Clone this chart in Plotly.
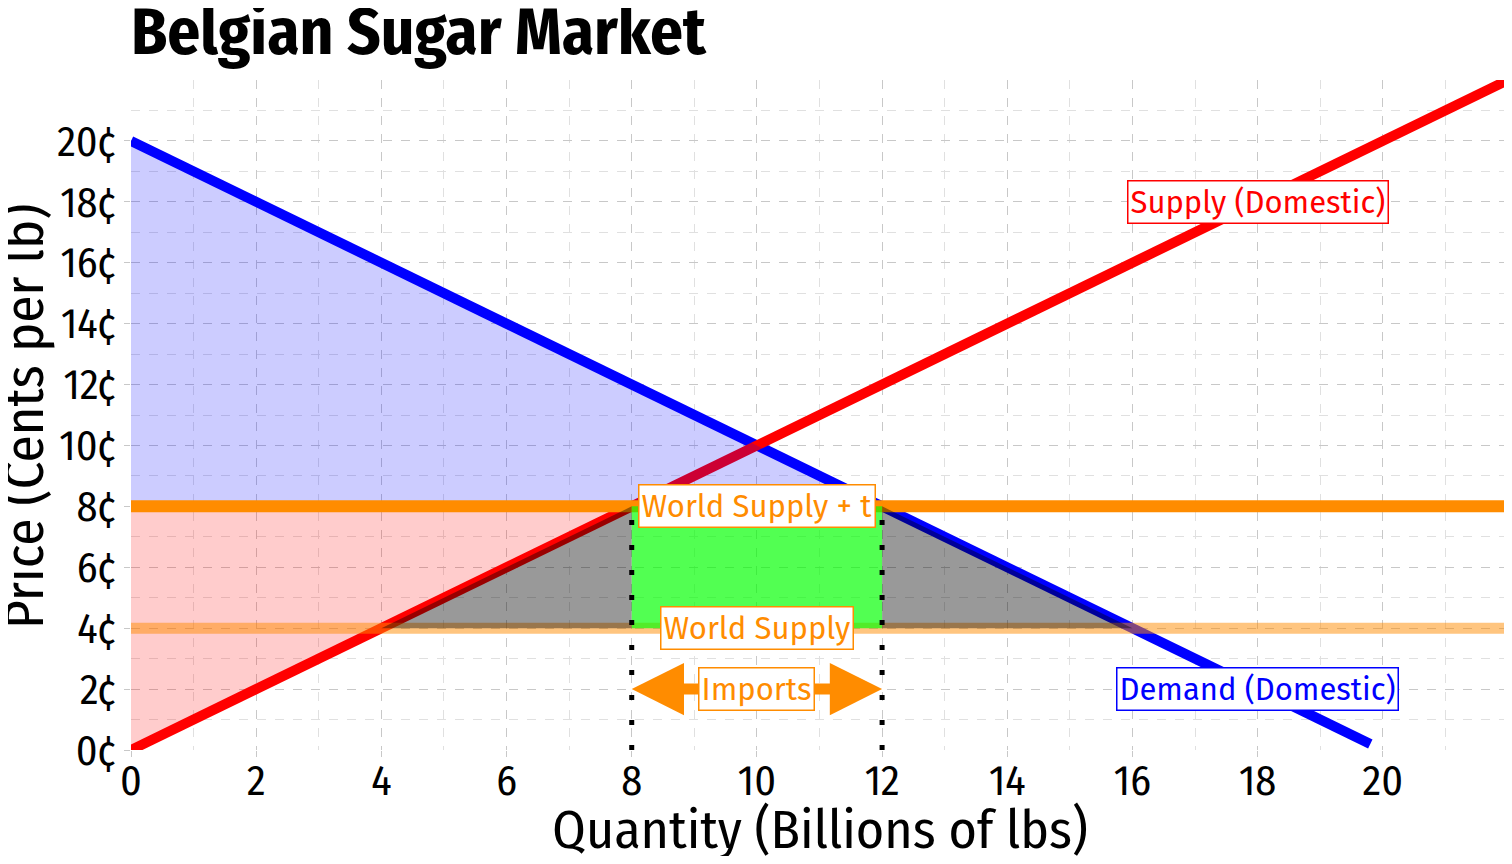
import numpy as np
import plotly.graph_objects as go

# ---------------- data ----------------
supply_q = [0, 22]
supply_p = [0, 22]
demand_q = [0, 19.8]
demand_p = [20, 0.2]
world_price = 4
tariff = 4
x_ticks = [0, 2, 4, 6, 8, 10, 12, 14, 16, 18, 20]
y_ticks = [0, 2, 4, 6, 8, 10, 12, 14, 16, 18, 20]
y_tick_labels = [f"{v}¢" for v in y_ticks]
label_supply = ("Supply (Domestic)", 18, 18)
label_demand = ("Demand (Domestic)", 18, 2)

# ---------------- derived quantities ----------------
p_t = world_price + tariff


def qs(p):
    return float(np.interp(p, supply_p, supply_q))


def qd(p):
    return float(np.interp(p, demand_p[::-1], demand_q[::-1]))


qs_w, qd_w = qs(world_price), qd(world_price)
qs_t, qd_t = qs(p_t), qd(p_t)

FONT = "Fira Sans Condensed, Liberation Sans Narrow, Roboto Condensed, Roboto, sans-serif"
LFONT = "Fira Sans, Fira Sans Condensed, Roboto, sans-serif"
ORANGE = "#FF8C00"

fig = go.Figure()

# supply / demand lines
fig.add_trace(go.Scatter(x=demand_q, y=demand_p, mode="lines",
                         line=dict(color="#0000FF", width=10), hoverinfo="skip"))
fig.add_trace(go.Scatter(x=supply_q, y=supply_p, mode="lines",
                         line=dict(color="#FF0000", width=10), hoverinfo="skip"))

# consumer surplus (blue)
fig.add_trace(go.Scatter(x=[0, qd_t, 0], y=[demand_p[0], p_t, p_t], fill="toself",
                         mode="none", fillcolor="rgba(0,0,255,0.2)", hoverinfo="skip"))
# producer surplus (red)
fig.add_trace(go.Scatter(x=[0, qs_t, 0], y=[0, p_t, p_t], fill="toself",
                         mode="none", fillcolor="rgba(255,0,0,0.2)", hoverinfo="skip"))

# world supply lines
fig.add_trace(go.Scatter(x=[0, 22], y=[p_t, p_t], mode="lines",
                         line=dict(color=ORANGE, width=12), hoverinfo="skip"))
fig.add_trace(go.Scatter(x=[0, 22], y=[world_price, world_price], mode="lines",
                         line=dict(color="rgba(255,140,0,0.5)", width=11), hoverinfo="skip"))

# deadweight losses (gray)
fig.add_trace(go.Scatter(x=[qs_w, qs_t, qs_t], y=[world_price, p_t, world_price], fill="toself",
                         mode="none", fillcolor="rgba(0,0,0,0.4)", hoverinfo="skip"))
fig.add_trace(go.Scatter(x=[qd_t, qd_w, qd_t], y=[p_t, world_price, world_price], fill="toself",
                         mode="none", fillcolor="rgba(0,0,0,0.4)", hoverinfo="skip"))
# tariff revenue (green)
fig.add_trace(go.Scatter(x=[qs_t, qd_t, qd_t, qs_t], y=[world_price, world_price, p_t, p_t],
                         fill="toself", mode="none", fillcolor="rgba(0,255,0,0.68)",
                         hoverinfo="skip"))

# dotted verticals
for q in (qs_t, qd_t):
    fig.add_trace(go.Scatter(x=[q, q], y=[0, p_t], mode="lines",
                             line=dict(color="black", width=5, dash="5px,20px"),
                             hoverinfo="skip"))

# imports arrow
mid = (qs_t + qd_t) / 2
for q in (qs_t, qd_t):
    fig.add_annotation(x=q, y=2, ax=mid, ay=2, xref="x", yref="y", axref="x", ayref="y",
                       text="", showarrow=True, arrowhead=2, arrowsize=0.95,
                       arrowwidth=11, arrowcolor=ORANGE)


def label(text, x, y, color):
    fig.add_annotation(x=x, y=y, xref="x", yref="y", text=text, showarrow=False,
                       font=dict(family=LFONT, size=31, color=color),
                       bgcolor="white", bordercolor=color, borderwidth=1.5, borderpad=2)


label(*label_supply, "#FF0000")
label(*label_demand, "#0000FF")
label("World Supply + t", mid, p_t, ORANGE)
label("World Supply", mid, world_price, ORANGE)
label("Imports", mid, 2, ORANGE)

# axis titles
fig.add_annotation(x=0.5, y=0, xref="paper", yref="paper", yanchor="middle",
                   yshift=-80, text="Quantity (Billions of lbs)", showarrow=False,
                   font=dict(family=FONT, size=54, color="black"))
fig.add_annotation(x=0, y=0.5, xref="paper", yref="paper", xanchor="center",
                   xshift=-106, yshift=-2, textangle=-90, text="Price (Cents per lb)",
                   showarrow=False, font=dict(family=FONT, size=55, color="black"))

grid = dict(showgrid=True, gridcolor="#c8c8c8", gridwidth=1, griddash="dash",
            zeroline=False, showline=False, automargin=False)
fig.update_xaxes(range=[0, 22], tickvals=x_ticks, ticks="outside", ticklen=6,
                 tickcolor="#c8c8c8", tickfont=dict(family=FONT, size=42, color="black"),
                 ticklabelstandoff=-12,
                 minor=dict(dtick=1, showgrid=True, gridcolor="#e0e0e0", griddash="dash"),
                 **grid)
fig.update_yaxes(range=[0, 22], tickvals=y_ticks, ticktext=y_tick_labels, ticks="outside",
                 ticklen=6, tickcolor="#c8c8c8",
                 tickfont=dict(family=FONT, size=42, color="black"),
                 minor=dict(dtick=1, showgrid=True, gridcolor="#e0e0e0", griddash="dash"),
                 **grid)

# the page body has an 8px margin, so the figure is a little smaller than the window
W, H = 1504, 848
fig.update_layout(
    width=W, height=H,
    margin=dict(l=123, r=4, t=72, b=106, autoexpand=False),
    plot_bgcolor="white", paper_bgcolor="white",
    showlegend=False,
    title=dict(text="<b>Belgian Sugar Market</b>", x=123 / W, xanchor="left",
               xref="container", y=1 - 23 / H, yanchor="middle", yref="container",
               font=dict(family=FONT, size=65, color="black"), automargin=False),
)

fig.write_html("out.html")
